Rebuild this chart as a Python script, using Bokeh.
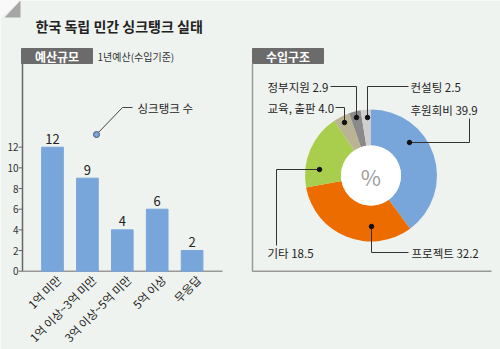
import math
from bokeh.plotting import figure
from bokeh.models import Range1d
from bokeh.core.properties import value
from bokeh.embed import file_html
from bokeh.resources import INLINE

# ---------------- data ----------------
title = "한국 독립 민간 싱크탱크 실태"
bar_categories = ["1억 미만", "1억 이상~3억 미만", "3억 이상~5억 미만", "5억 이상", "무응답"]
bar_values = [12, 9, 4, 6, 2]
y_ticks = [0, 2, 4, 6, 8, 10, 12]

pie_labels = ["후원회비", "프로젝트", "기타", "교육, 출판", "정부지원", "컨설팅"]
pie_values = [39.9, 32.2, 18.5, 4.0, 2.9, 2.5]
pie_colors = ["#78a6da", "#ec6c00", "#a9cd4d", "#bab394", "#8a8a8a", "#cfcfcf"]

W, H = 500, 349
FONT = value("Noto Sans CJK KR")


def Y(py):
    return H - py


p = figure(width=W, height=H, x_range=Range1d(0, W), y_range=Range1d(0, H),
           output_backend="svg", toolbar_location=None, min_border=0)
p.axis.visible = False
p.grid.visible = False
p.outline_line_color = None
p.background_fill_color = "#eff3ef"
p.border_fill_color = "#eff3ef"

# bar chart coordinate system
x0, dx = 52.0, 34.9
zero_py, unit = 270.7, 124.0 / 12
p.extra_x_ranges = {"bx": Range1d(-x0 / dx, (W - x0) / dx)}
p.extra_y_ranges = {"by": Range1d((zero_py - H) / unit, zero_py / unit)}

# corner fold
p.patch([0, 20, 0], [Y(0), Y(0), Y(17)], color="#f8f9f8", line_color=None)
p.patch([20, 20, 4], [Y(0), Y(17), Y(17)], color="#a6a6a6", line_color=None)

# title
p.text(x=[35], y=[Y(25)], text=[title], text_font=FONT, text_font_size="14px",
       text_font_style="bold", text_color="#222222", text_baseline="middle")

# ---- left panel ----
p.quad(left=[21], right=[92], top=[Y(48)], bottom=[Y(63)], color="#6b6b6b")
p.text(x=[56.5], y=[Y(55.5)], text=["예산규모"], text_font=FONT, text_font_size="12px",
       text_font_style="bold", text_color="white", text_align="center", text_baseline="middle")
p.text(x=[97], y=[Y(56)], text=["1년예산(수입기준)"], text_font=FONT, text_font_size="10px",
       text_color="#333333", text_baseline="middle")
p.line([22, 22], [Y(63), Y(zero_py)], line_color="#666666", line_width=1.5)
p.line([22, 222], [Y(zero_py), Y(zero_py)], line_color="#999999", line_width=1.5)

idx = list(range(len(bar_categories)))
p.vbar(x=idx, top=bar_values, bottom=0, width=0.62, color="#78a6da",
       x_range_name="bx", y_range_name="by")
p.text(x=idx, y=[v + 0.35 for v in bar_values], text=[str(v) for v in bar_values],
       text_font=FONT, text_font_size="13px", text_color="#222222",
       text_align="center", text_baseline="bottom", x_range_name="bx", y_range_name="by")

# y ticks
p.segment(x0=[18] * len(y_ticks), x1=[22] * len(y_ticks), y0=y_ticks, y1=y_ticks,
          line_color="#666666", line_width=1, y_range_name="by")
p.text(x=[18] * len(y_ticks), y=y_ticks, text=[str(t) for t in y_ticks], text_font=FONT,
       text_font_size="10px", text_color="#333333", text_align="right",
       text_baseline="middle", y_range_name="by")

# rotated category labels
p.text(x=[i + 0.18 for i in idx], y=[-0.6] * len(idx), text=bar_categories,
       angle=math.pi / 4, text_font=FONT, text_font_size="11.5px", text_color="#222222",
       text_align="right", text_baseline="middle", x_range_name="bx", y_range_name="by")

# legend
p.line([96, 122, 132], [Y(134), Y(107), Y(107)], line_color="#444444", line_width=1)
p.scatter([96], [Y(134)], size=6, fill_color="#78a6da", line_color="#445577", line_width=1)
p.text(x=[137], y=[Y(107)], text=["싱크탱크 수"], text_font=FONT, text_font_size="11.5px",
       text_color="#222222", text_baseline="middle")

# ---- right panel ----
p.quad(left=[252], right=[323], top=[Y(48)], bottom=[Y(63)], color="#6b6b6b")
p.text(x=[287.5], y=[Y(55.5)], text=["수입구조"], text_font=FONT, text_font_size="12px",
       text_font_style="bold", text_color="white", text_align="center", text_baseline="middle")
p.line([252, 252, 491], [Y(63), Y(zero_py), Y(zero_py)], line_color="#999999", line_width=1.5)

cx, cy, r_out, r_in = 370.5, Y(175), 66, 30
total = sum(pie_values)
starts, ends = [], []
acc = 0.0
for v in pie_values:
    starts.append(math.pi / 2 - 2 * math.pi * acc / total)
    acc += v
    ends.append(math.pi / 2 - 2 * math.pi * acc / total)
p.annular_wedge(x=cx, y=cy, inner_radius=r_in, outer_radius=r_out,
                start_angle=starts, end_angle=ends, direction="clock",
                fill_color=pie_colors, line_color=None)
p.circle(x=[cx], y=[cy], radius=r_in, fill_color="white", line_color=None)
p.text(x=[cx], y=[cy], text=["%"], text_font=FONT, text_font_size="22px",
       text_color="#a0a0a0", text_align="center", text_baseline="middle")

labels = [f"{n} {v:.1f}" for n, v in zip(pie_labels, pie_values)]
# label anchors: (x, y, align) in top-based pixels
lab_pos = [(410, 109, "left"), (411, 252, "left"), (267, 252, "left"),
           (267, 107, "left"), (267, 86, "left"), (410, 86, "left")]
p.text(x=[a[0] for a in lab_pos], y=[Y(a[1]) for a in lab_pos], text=labels,
       text_font=FONT, text_font_size="11.5px", text_color="#222222",
       text_align=[a[2] for a in lab_pos], text_baseline="middle")

leaders = [
    [(469, 118), (469, 142), (409, 142)],
    [(371, 226), (371, 252), (408, 252)],
    [(276, 245), (276, 169), (319, 169)],
    [(335, 107), (344, 107), (344, 122)],
    [(330, 86), (356, 86), (356, 117)],
    [(367, 117), (367, 86), (408, 86)],
]
dots = [(409, 142), (371, 226), (319, 169), (344, 122), (356, 117), (367, 117)]
p.multi_line(xs=[[q[0] for q in l] for l in leaders], ys=[[Y(q[1]) for q in l] for l in leaders],
             line_color="#333333", line_width=1)
p.scatter([d[0] for d in dots], [Y(d[1]) for d in dots], size=4.5, color="#111111")

open("out.html", "w").write(file_html(p, INLINE))
